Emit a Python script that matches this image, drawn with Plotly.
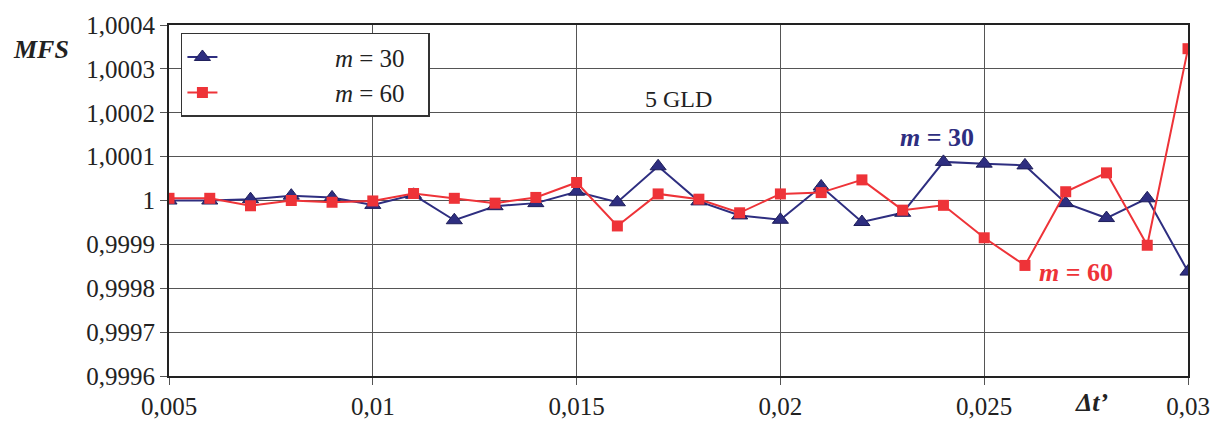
import plotly.graph_objects as go

dt = [0.005, 0.006, 0.007, 0.008, 0.009, 0.010, 0.011, 0.012, 0.013, 0.014,
      0.015, 0.016, 0.017, 0.018, 0.019, 0.020, 0.021, 0.022, 0.023, 0.024,
      0.025, 0.026, 0.027, 0.028, 0.029, 0.030]

mfs_m30 = [1.000000, 1.000000, 1.000003, 1.000011, 1.000007, 0.999990, 1.000013,
           0.999955, 0.999987, 0.999994, 1.000020, 0.999996, 1.000078, 0.999998,
           0.999966, 0.999956, 1.000032, 0.999951, 0.999972, 1.000088, 1.000084,
           1.000080, 0.999994, 0.999960, 1.000005, 0.999838]

mfs_m60 = [1.000005, 1.000005, 0.999988, 1.000000, 0.999996, 0.999999, 1.000016,
           1.000005, 0.999994, 1.000007, 1.000041, 0.999942, 1.000015, 1.000003,
           0.999972, 1.000015, 1.000018, 1.000047, 0.999978, 0.999989, 0.999915,
           0.999852, 1.000020, 1.000063, 0.999898, 1.000346]

x_tickvals = [0.005, 0.01, 0.015, 0.02, 0.025, 0.03]
x_ticktext = ["0,005", "0,01", "0,015", "0,02", "0,025", "0,03"]
y_tickvals = [0.9996, 0.9997, 0.9998, 0.9999, 1.0, 1.0001, 1.0002, 1.0003, 1.0004]
y_ticktext = ["0,9996", "0,9997", "0,9998", "0,9999", "1", "1,0001", "1,0002", "1,0003", "1,0004"]

BLUE = "#2E2E80"
RED = "#EE3338"
FONT = "Times New Roman, Liberation Serif, serif"
SP = "&nbsp;" * 18
TAIL = "&nbsp;" * 3

fig = go.Figure()
fig.add_trace(go.Scatter(
    x=dt, y=mfs_m30, mode="lines+markers", name=SP + "<i>m</i> = 30" + TAIL,
    line=dict(color=BLUE, width=2),
    marker=dict(symbol="triangle-up", size=14, color=BLUE, line=dict(color="#1E1E5A", width=1)),
))
fig.add_trace(go.Scatter(
    x=dt, y=mfs_m60, mode="lines+markers", name=SP + "<i>m</i> = 60" + TAIL,
    line=dict(color=RED, width=2),
    marker=dict(symbol="square", size=11, color=RED, line=dict(width=0)),
))

fig.add_annotation(x=-0.1254, y=0.93, xref="paper", yref="paper", text="<b><i>MFS</i></b>",
                   showarrow=False, xanchor="center", yanchor="middle",
                   font=dict(family=FONT, size=26, color="#222"))
fig.add_annotation(x=0.905, y=-0.075, xref="paper", yref="paper", text="<b><i>Δt’</i></b>",
                   showarrow=False, xanchor="center", yanchor="middle",
                   font=dict(family=FONT, size=26, color="#222"))
fig.add_annotation(x=0.0175, y=1.000232, text="5 GLD", showarrow=False,
                   xanchor="center", yanchor="middle",
                   font=dict(family=FONT, size=24, color="#222"))
fig.add_annotation(x=0.02384, y=1.000143, text="<b><i>m</i> = 30</b>", showarrow=False,
                   xanchor="center", yanchor="middle",
                   font=dict(family=FONT, size=26, color=BLUE))
fig.add_annotation(x=0.027264, y=0.999837, text="<b><i>m</i> = 60</b>", showarrow=False,
                   xanchor="center", yanchor="middle",
                   font=dict(family=FONT, size=26, color=RED))

axis_common = dict(showline=True, linecolor="#222", linewidth=2, mirror=True,
                   showgrid=True, gridcolor="#555", gridwidth=1, zeroline=False,
                   ticks="outside", ticklen=7, tickcolor="#555",
                   tickfont=dict(family=FONT, size=25, color="#222"))

fig.update_xaxes(range=[0.005, 0.03], tickvals=x_tickvals, ticktext=x_ticktext, **axis_common)
fig.update_yaxes(range=[0.9996, 1.0004], tickvals=y_tickvals, ticktext=y_ticktext, **axis_common)

fig.update_layout(
    width=1222, height=432,
    margin=dict(l=169, r=24, t=25, b=49),
    paper_bgcolor="white", plot_bgcolor="white",
    font=dict(family=FONT, size=22, color="#222"),
    legend=dict(x=0.0117, y=0.978, xanchor="left", yanchor="top",
                bgcolor="white", bordercolor="#333", borderwidth=1.5,
                font=dict(family=FONT, size=25, color="#222"),
                tracegroupgap=0, itemwidth=30),
    showlegend=True,
)

fig.write_html("out.html")
